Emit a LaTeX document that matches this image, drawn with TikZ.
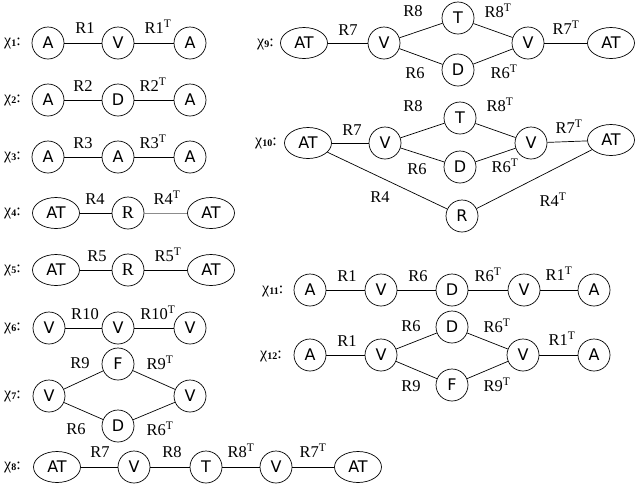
\documentclass[tikz,border=0pt]{standalone}
\usepackage{fontspec}
\setmainfont{Liberation Serif}
\newfontfamily\nodefont{DejaVu Sans}
\usetikzlibrary{shapes.geometric}
\newcommand\chil[1]{χ\raisebox{-0.15ex}{\fontsize{10}{10}\selectfont\bfseries #1}:}
\newcommand\tp{\textsuperscript{T}}
\tikzset{
  circ/.style={draw, circle, inner sep=0pt, minimum size=32pt, line width=0.7pt, font=\nodefont\fontsize{16}{16}\selectfont},
  circr/.style={circ, font=\fontsize{18}{18}\selectfont},
  ell/.style={draw, ellipse, inner sep=0pt, minimum width=47pt, minimum height=31pt, line width=0.7pt, font=\nodefont\fontsize{16}{16}\selectfont},
  lab/.style={inner sep=0pt, font=\fontsize{16.5}{16.5}\selectfont},
  chi/.style={anchor=west, inner sep=0pt, font=\fontsize{16}{16}\selectfont},
  conn/.style={line width=0.7pt},
}
\begin{document}
\begin{tikzpicture}[x=1pt,y=-1pt]
\useasboundingbox (0,0) rectangle (640,491);
% chi1
\node[chi] (c1) at (4,43) {\chil{1}};
\node[circ] (a11) at (48,43) {A};
\node[circ] (a12) at (118,43) {V};
\node[circ] (a13) at (190,43) {A};
\draw[conn] (a11) -- (a12); \draw[conn] (a12) -- (a13);
\node[lab] (l11) at (85,28) {R1};
\node[lab] (l12) at (158,27) {R1\tp};
% chi2
\node[chi] (c2) at (4,100) {\chil{2}};
\node[circ] (a21) at (48,100) {A};
\node[circ] (a22) at (118,100) {D};
\node[circ] (a23) at (190,100) {A};
\draw[conn] (a21) -- (a22); \draw[conn] (a22) -- (a23);
\node[lab] (l21) at (83,86) {R2};
\node[lab] (l22) at (153,85) {R2\tp};
% chi3
\node[chi] (c3) at (4,157) {\chil{3}};
\node[circ] (a31) at (48,157) {A};
\node[circ] (a32) at (118,157) {A};
\node[circ] (a33) at (190,157) {A};
\draw[conn] (a31) -- (a32); \draw[conn] (a32) -- (a33);
\node[lab] (l31) at (83,143) {R3};
\node[lab] (l32) at (153,142) {R3\tp};
% chi4
\node[chi] (c4) at (4,213) {\chil{4}};
\node[ell] (a41) at (56,213) {AT};
\node[circr] (a42) at (128,213) {R};
\node[ell] (a43) at (211,213) {AT};
\draw[conn] (a41) -- (a42); \draw[conn, black!45] (a42) -- (a43);
\node[lab] (l41) at (95,199) {R4};
\node[lab] (l42) at (167,198) {R4\tp};
% chi5
\node[chi] (c5) at (4,270) {\chil{5}};
\node[ell] (a51) at (56,270) {AT};
\node[circr] (a52) at (128,270) {R};
\node[ell] (a53) at (211,270) {AT};
\draw[conn] (a51) -- (a52); \draw[conn] (a52) -- (a53);
\node[lab] (l51) at (97,256) {R5};
\node[lab] (l52) at (168,255) {R5\tp};
% chi6
\node[chi] (c6) at (4,328) {\chil{6}};
\node[circ] (a61) at (49,328) {V};
\node[circ] (a62) at (118,328) {V};
\node[circ] (a63) at (190,328) {V};
\draw[conn] (a61) -- (a62); \draw[conn] (a62) -- (a63);
\node[lab] (l61) at (85,314) {R10};
\node[lab] (l62) at (158,313) {R10\tp};
% chi7
\node[chi] (c7) at (4,396) {\chil{7}};
\node[circ] (a71) at (49,396) {V};
\node[circ] (a72) at (118,364) {F};
\node[circ] (a73) at (118,426) {D};
\node[circ] (a74) at (190,396) {V};
\draw[conn] (a71) -- (a72); \draw[conn] (a72) -- (a74);
\draw[conn] (a71) -- (a73); \draw[conn] (a73) -- (a74);
\node[lab] (l71) at (80,363) {R9};
\node[lab] (l72) at (160,363) {R9\tp};
\node[lab] (l73) at (76,429) {R6};
\node[lab] (l74) at (160,429) {R6\tp};
% chi8
\node[chi] (c8) at (4,467) {\chil{8}};
\node[ell] (a81) at (57,467) {AT};
\node[circ] (a82) at (134,467) {V};
\node[circ] (a83) at (206,467) {T};
\node[circ] (a84) at (276,467) {V};
\node[ell] (a85) at (358,467) {AT};
\draw[conn] (a81) -- (a82); \draw[conn] (a82) -- (a83);
\draw[conn] (a83) -- (a84); \draw[conn] (a84) -- (a85);
\node[lab] (l81) at (100,452) {R7};
\node[lab] (l82) at (172,452) {R8};
\node[lab] (l83) at (241,451) {R8\tp};
\node[lab] (l84) at (313,451) {R7\tp};
% chi9
\node[chi] (c9) at (257,44) {\chil{9}};
\node[ell] (a91) at (304,43) {AT};
\node[circ] (a92) at (384,43) {V};
\node[circ] (a93) at (458,18) {T};
\node[circ] (a94) at (458,70) {D};
\node[circ] (a95) at (528,43) {V};
\node[ell] (a96) at (611,43) {AT};
\draw[conn] (a91) -- (a92);
\draw[conn] (a92) -- (a93); \draw[conn] (a93) -- (a95);
\draw[conn] (a92) -- (a94); \draw[conn] (a94) -- (a95);
\draw[conn] (a95) -- (a96);
\node[lab] (l91) at (348,30) {R7};
\node[lab] (l92) at (413,11) {R8};
\node[lab] (l93) at (498,11) {R8\tp};
\node[lab] (l94) at (415,73) {R6};
\node[lab] (l95) at (504,72) {R6\tp};
\node[lab] (l96) at (566,28) {R7\tp};
% chi10
\node[chi] (c10) at (255,143) {\chil{10}};
\node[ell] (b1) at (308,143) {AT};
\node[circ] (b2) at (385,143) {V};
\node[circ] (b3) at (460,118) {T};
\node[circ] (b4) at (460,167) {D};
\node[circ] (b5) at (531,143) {V};
\node[ell] (b6) at (611,140) {AT};
\node[circ] (b7) at (462,216) {R};
\draw[conn] (b1) -- (b2);
\draw[conn] (b2) -- (b3); \draw[conn] (b3) -- (b5);
\draw[conn] (b2) -- (b4); \draw[conn] (b4) -- (b5);
\draw[conn] (b5) -- (b6);
\draw[conn] (b1) -- (b7); \draw[conn] (b7) -- (b6);
\node[lab] (m1) at (352,130) {R7};
\node[lab] (m2) at (413,106) {R8};
\node[lab] (m3) at (500,105) {R8\tp};
\node[lab] (m4) at (417,169) {R6};
\node[lab] (m5) at (505,166) {R6\tp};
\node[lab] (m6) at (569,127) {R7\tp};
\node[lab] (m7) at (380,197) {R4};
\node[lab] (m8) at (553,200) {R4\tp};
% chi11
\node[chi] (c11) at (262,291) {\chil{11}};
\node[circ] (d1) at (310,290) {A};
\node[circ] (d2) at (381,290) {V};
\node[circ] (d3) at (452,290) {D};
\node[circ] (d4) at (524,290) {V};
\node[circ] (d5) at (594,290) {A};
\draw[conn] (d1) -- (d2); \draw[conn] (d2) -- (d3);
\draw[conn] (d3) -- (d4); \draw[conn] (d4) -- (d5);
\node[lab] (n1) at (347,276) {R1};
\node[lab] (n2) at (418,276) {R6};
\node[lab] (n3) at (488,275) {R6\tp};
\node[lab] (n4) at (559,274) {R1\tp};
% chi12
\node[chi] (c12) at (260,356) {\chil{12}};
\node[circ] (e1) at (310,355) {A};
\node[circ] (e2) at (381,355) {V};
\node[circ] (e3) at (452,327) {D};
\node[circ] (e4) at (452,385) {F};
\node[circ] (e5) at (523,355) {V};
\node[circ] (e6) at (594,355) {A};
\draw[conn] (e1) -- (e2);
\draw[conn] (e2) -- (e3); \draw[conn] (e3) -- (e5);
\draw[conn] (e2) -- (e4); \draw[conn] (e4) -- (e5);
\draw[conn] (e5) -- (e6);
\node[lab] (o1) at (347,341) {R1};
\node[lab] (o2) at (411,326) {R6};
\node[lab] (o3) at (497,326) {R6\tp};
\node[lab] (o4) at (411,386) {R9};
\node[lab] (o5) at (497,385) {R9\tp};
\node[lab] (o6) at (562,339) {R1\tp};
\end{tikzpicture}
\end{document}
